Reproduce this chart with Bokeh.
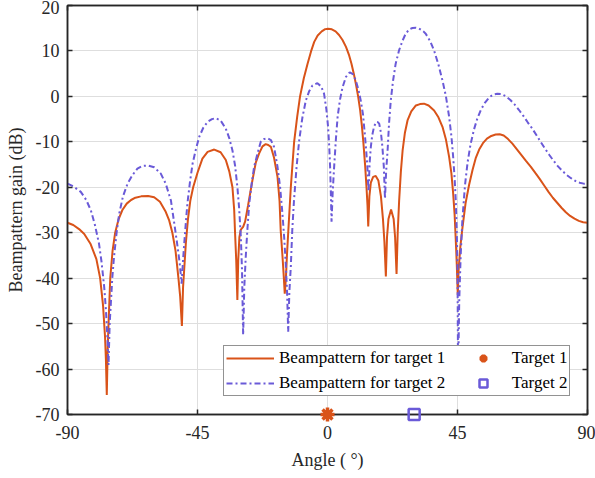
from bokeh.plotting import figure
from bokeh.models import LinearAxis, Legend, LegendItem, FixedTicker, Range1d
from bokeh.embed import file_html
from bokeh.resources import INLINE

# ---- data ----
angle_t1 = [-90, -88, -86, -84.2, -82, -80, -78.7, -77.7, -77.0, -76.7, -76.4, -76.1, -75.8, -75.2, -74.4,
            -73.5, -72.3, -71.0, -69.5, -68, -66.5, -64.5, -62.1, -60, -58, -56, -54.8, -53.7, -52.6, -51.6, -51.0,
            -50.4, -50.0, -49.6, -49, -48.3, -47.5, -46.5, -45, -43.3, -41.5, -39.2, -37, -35.2, -34,
            -32.9, -32.3, -32.0, -31.6, -31.2, -30.9, -30.5, -30.0, -29.2, -28.5, -27.5, -26, -24.8, -23.7,
            -22.5, -21.4, -20.5, -19.6, -18.5, -17.3, -16.6, -16.2, -15.6, -15.2, -14.8, -14.4, -14.0,
            -13.6, -12.7, -11.55, -10.5, -9.5, -8.2, -6.9, -5.7, -4.6, -3.4, -2, -0.8, 0.2, 1.5, 2.8, 4,
            5.2, 6.4, 7.4, 8.3, 9.1, 9.9, 10.6, 11.3, 11.9, 12.4, 13.0, 13.5, 13.85, 14.1, 14.5, 15.0,
            15.8, 16.7, 17.6, 18.5, 19.2, 19.7, 20.2, 20.6, 21.1, 22.0, 22.9, 23.4, 23.9, 24.3, 24.8, 25.4,
            26.0, 26.8, 27.7, 29, 30.6, 32, 33.4, 35, 36.9, 38.4, 39.8, 41, 42.1, 42.9, 43.5, 44.0, 44.4,
            44.75, 45.1, 45.4, 46.0, 46.7, 47.8, 49.0, 50.2, 51.3, 52.5, 53.8, 55.2, 56.7, 58.2, 59.6, 61,
            62.5, 64, 65.5, 67, 68.7, 70.4, 72, 73.5, 75, 76.5, 78, 79.5, 81, 82.5, 84, 85.5, 87, 88.5, 90]
gain_t1 = [-27.8, -28.3, -29.2, -30.3, -32.5, -35.8, -40, -46, -53, -58, -65.7, -56, -50, -40, -34,
           -30, -27, -25, -23.6, -22.8, -22.3, -22.0, -21.9, -22.2, -23.2, -25.4, -27.3, -30, -34, -40, -44,
           -50.5, -42, -38, -32, -27, -23, -20, -16.8, -13.7, -12.2, -11.7, -12.3, -14, -16.5,
           -20, -25, -30, -36, -44.8, -36, -31, -29.3, -28.7, -27.5, -24, -18.5, -14.5, -12.6,
           -11, -10.5, -10.7, -11.1, -13.5, -17.7, -23, -29.5, -35, -39, -43.4, -40, -34.5,
           -30, -20, -10, -4.5, 0, 4, 7.2, 9.9, 12.0, 13.4, 14.3, 14.8, 14.9, 14.75, 14.3, 13.5,
           12.4, 10.9, 9.2, 7.2, 5.0, 2.5, 0, -3, -6.5, -10, -15, -20, -24, -28.6, -22, -19,
           -17.7, -17.5, -18.5, -22, -27, -32, -39.6, -31, -27, -24.9, -27, -31, -39.1, -30, -22.9, -16.5,
           -11.9, -8, -5.3, -3.3, -2.0, -1.7, -1.6, -2, -3.1, -4.6, -6.7, -9.5, -13.3, -17, -21.4, -26, -31.6,
           -37, -43.7, -38, -33, -29, -23.5, -19.5, -16.2, -13.6, -11.7, -10.3, -9.3, -8.7, -8.4, -8.35, -8.6,
           -9.4, -10.4, -11.6, -12.8, -14.2, -15.5, -16.9, -18.2, -19.6, -21, -22.3, -23.4, -24.5, -25.5, -26.3,
           -26.9, -27.4, -27.7, -27.8]

angle_t2 = [-90, -88, -85.4, -83.5, -81.9, -80.5, -79.1, -78.2, -77.3, -76.7, -76.2, -75.8, -75.4, -75.0,
            -74.5, -73.9, -73, -72.1, -70.8, -69.2, -67.5, -65.8, -64, -62.1, -60, -57.7, -56.0, -54.2,
            -52.8, -51.9, -51.2, -50.5, -50.0, -49.6, -49.0, -48.5, -47.6, -46.7, -45.5, -44.4, -43,
            -41.5, -40, -38.7, -37, -35.2, -34, -32.9, -32, -31.2, -30.6, -30.0, -29.6, -29.2, -28.8,
            -28.3, -27.7, -27.1, -26.2, -25.4, -24.2, -23.1, -22, -20.8, -19.6, -18.5, -17.3, -16.4,
            -15.6, -15.0, -14.4, -14.0, -13.6, -13.2, -12.7, -12.2, -11.6, -10.7, -9.8, -8.7, -7.5,
            -6.3, -5.2, -3.5, -2.2, -1.2, -0.4, 0.2, 0.6, 0.9, 1.15, 1.4, 1.8, 2.3, 2.9, 3.5, 4.3, 5.2,
            6.4, 7.7, 8.8, 9.8, 10.7, 11.5, 12.3, 12.9, 13.4, 13.8, 14.2, 14.6, 15.0, 15.5, 16.1, 16.7,
            17.3, 17.9, 18.5, 19.0, 19.5, 19.9, 20.3, 20.8, 21.3, 21.9, 22.7, 23.6, 24.8, 26.0, 27, 28.2,
            29.4, 30.6, 31.5, 32.3, 33.2, 34.0, 35.5, 36.9, 38.4, 39.8, 41, 42.1, 42.9, 43.5, 44.0, 44.4,
            44.75, 45.0, 45.2, 45.6, 46.1, 46.7, 47.6, 48.5, 49.5, 50.7, 51.9, 53.2, 54.6, 56, 57.4, 58.8,
            60.3, 61.8, 63.3, 64.8, 66.3, 67.8, 69.3, 70.8, 72.3, 73.8, 75.3, 76.8, 78.3, 79.8, 81.3, 82.8,
            84.3, 85.8, 87.3, 88.7, 90]
gain_t2 = [-19.2, -19.8, -21.0, -22.8, -25.1, -28.3, -32.4, -36.5, -41.9, -47, -52.9, -59.1, -50, -45.6,
           -40, -35.3, -30, -25.8, -22, -19.2, -17.3, -15.9, -15.3, -15.2, -15.6, -17.0, -19.2, -22.9,
           -29, -33.1, -36.5, -41.2, -36, -32.4, -27.5, -23.6, -18.8, -14.8, -11.5, -8.9, -6.9,
           -5.6, -5.0, -4.8, -5.3, -7.1, -9.2, -11.9, -15.2, -19.9, -24.5, -30.9, -38, -52.5, -42,
           -35.3, -29, -23.6, -19, -15.5, -12.5, -10.0, -9.4, -9.2, -9.6, -11.1, -15.5, -20,
           -25.8, -31, -37.5, -43, -51.8, -43, -37.5, -29.5, -22.9, -15.5, -9.7, -4.7, -0.9,
           1.2, 2.4, 2.9, 2.2, 0.6, -2.8, -6.7, -11, -15.5, -21, -27.6, -21, -15.5, -9.5, -4.5, -0.8, 2.0,
           4.3, 5.3, 4.9, 3.5, 1.5, -0.9, -4, -8.2, -12, -15.5, -21.0, -14.5, -11.1, -8.5, -6.7, -5.8,
           -5.6, -6.0, -8, -11.1, -15.5, -22.5, -16.5, -11.9, -6, -0.9, 3.5, 7.2, 10.2, 12.3, 13.7, 14.7,
           15.05, 15.1, 15.0, 14.7, 14.3, 13.8, 12.2, 10.1, 7.0, 3.5, 0, -4.5, -8.8, -13.3, -18, -22.9,
           -30, -37.5, -62, -45, -35, -27, -19.5, -14.5, -10.6, -7.3, -4.8, -2.8, -1.3, -0.2, 0.4, 0.6,
           0.5, 0, -0.8, -1.8, -3.0, -4.3, -5.7, -7.0, -8.5, -10.0, -11.5, -12.9, -14.2, -15.4, -16.4, -17.3,
           -18.0, -18.6, -19.0, -19.2, -19.2]

target1_angle = [0]
target2_angle = [30]
target_level = [-70]

x_ticks = [-90, -45, 0, 45, 90]
y_ticks = [-70, -60, -50, -40, -30, -20, -10, 0, 10, 20]

ORANGE = "#D95319"
BLUE = "#6A5AD8"
AX = "#262626"
FONT = "Liberation Serif"

p = figure(width=595, height=478, output_backend="svg", toolbar_location=None,
           x_range=Range1d(-90, 90), y_range=Range1d(-70, 20),
           min_border_left=67, min_border_right=8, min_border_top=5, min_border_bottom=64)
p.outline_line_color = AX
p.outline_line_width = 1.5
p.background_fill_color = "white"
p.border_fill_color = "white"

for ax in (p.xaxis[0], p.yaxis[0]):
    ax.axis_line_color = AX
    ax.axis_line_width = 1.5
    ax.major_tick_line_color = AX
    ax.major_tick_line_width = 1.5
    ax.major_tick_in = 5
    ax.major_tick_out = 0
    ax.minor_tick_line_color = None
    ax.major_label_text_font = FONT
    ax.major_label_text_font_size = "18px"
    ax.major_label_text_color = AX
    ax.axis_label_text_font = FONT
    ax.axis_label_text_font_size = "18px"
    ax.axis_label_text_font_style = "normal"
    ax.axis_label_text_color = AX

p.xaxis[0].ticker = FixedTicker(ticks=x_ticks)
p.yaxis[0].ticker = FixedTicker(ticks=y_ticks)
p.xaxis[0].major_label_overrides = {t: str(t) for t in x_ticks}
p.yaxis[0].major_label_overrides = {t: str(t) for t in y_ticks}
p.xaxis[0].axis_label = "Angle ( °)"
p.yaxis[0].axis_label = "Beampattern gain (dB)"
p.xaxis[0].major_label_standoff = 11
p.yaxis[0].major_label_standoff = 8
p.xaxis[0].axis_label_standoff = 8
p.yaxis[0].axis_label_standoff = 7

top = LinearAxis(ticker=FixedTicker(ticks=x_ticks),
                 major_label_overrides={t: "" for t in x_ticks},
                 major_tick_in=5, major_tick_out=0, minor_tick_line_color=None,
                 axis_line_color=AX, axis_line_width=1.5, major_tick_line_color=AX,
                 major_tick_line_width=1.5, major_label_standoff=0)
right = LinearAxis(ticker=FixedTicker(ticks=y_ticks),
                   major_label_overrides={t: "" for t in y_ticks},
                   major_tick_in=5, major_tick_out=0, minor_tick_line_color=None,
                   axis_line_color=AX, axis_line_width=1.5, major_tick_line_color=AX,
                   major_tick_line_width=1.5, major_label_standoff=0)
p.add_layout(top, "above")
p.add_layout(right, "right")

p.xgrid.ticker = FixedTicker(ticks=x_ticks)
p.ygrid.ticker = FixedTicker(ticks=y_ticks)
p.grid.grid_line_color = "#dedede"
p.grid.grid_line_width = 1

l1 = p.line(angle_t1, gain_t1, line_color=ORANGE, line_width=2)
l2 = p.line(angle_t2, gain_t2, line_color=BLUE, line_width=2, line_dash="6 3 2 3")
s1 = p.scatter(target1_angle, target_level, marker="asterisk", size=14, line_color=ORANGE,
               line_width=3.5, level="overlay")
s2 = p.scatter(target2_angle, target_level, marker="square", size=11, line_color=BLUE,
               fill_color=None, line_width=2.5, level="overlay")

legend = Legend(items=[
    LegendItem(label="Beampattern for target 1\u00a0\u00a0", renderers=[l1]),
    LegendItem(label="Beampattern for target 2\u00a0\u00a0", renderers=[l2]),
    LegendItem(label="Target 1", renderers=[s1]),
    LegendItem(label="Target 2", renderers=[s2]),
], location=(156, 18), ncols=2)
legend.label_text_font = FONT
legend.label_text_font_size = "17px"
legend.label_text_color = "black"
legend.border_line_color = AX
legend.border_line_width = 1.5
legend.background_fill_color = "white"
legend.background_fill_alpha = 1
legend.glyph_width = 48
legend.glyph_height = 20
legend.label_height = 20
legend.spacing = 5
legend.padding = 2
legend.margin = 0
legend.label_standoff = 5
p.add_layout(legend, "center")

open("out.html", "w").write(file_html(p, INLINE))
